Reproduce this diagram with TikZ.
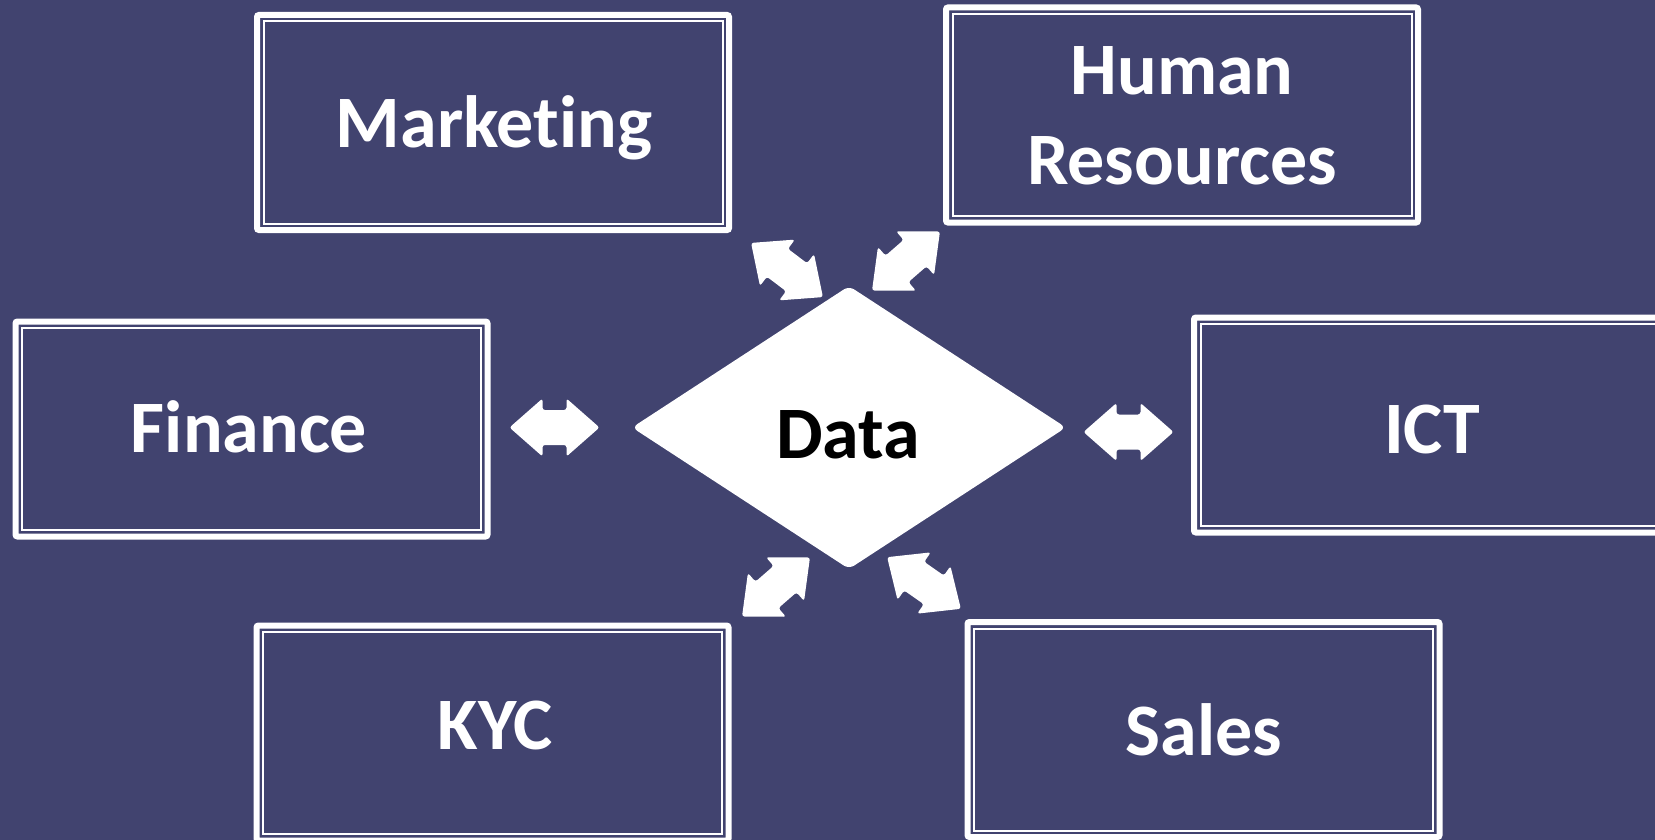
\documentclass[tikz,border=0pt]{standalone}
\usepackage{fontspec}
\setmainfont{Carlito}[RawFeature={-liga}]
\usetikzlibrary{shapes.geometric}
\definecolor{bgblue}{RGB}{65,67,111}
\newcommand{\bigfont}{\fontsize{74pt}{90pt}\selectfont\bfseries}
\tikzset{
  boxst/.style={draw=white, line width=6pt, fill=bgblue, minimum width=472pt, minimum height=215pt, inner sep=0pt, rounded corners=2pt},
  innerline/.style={draw=white, line width=2pt},
  lbl/.style={text=white, font=\bigfont, anchor=base, inner sep=0pt, align=center},
  datast/.style={shape=diamond, fill=white, minimum width=434pt, minimum height=283pt, inner sep=0pt, rounded corners=6pt},
  dblarrow/.pic={\fill[white, rounded corners=2.5pt] (-45,0) -- (-12,-29) -- (-12,-17.5) -- (12,-17.5) -- (12,-29) -- (45,0) -- (12,29) -- (12,17.5) -- (-12,17.5) -- (-12,29) -- cycle;}
}
\begin{document}
\begin{tikzpicture}[x=1pt, y=-1pt]
\useasboundingbox (0,0) rectangle (1655,840);
\fill[bgblue] (0,0) rectangle (1655,840);
\begin{scope}
\clip (0,0) rectangle (1655,840);

% boxes (outer thick line)
\node[boxst] (mkt) at (493,122.5) {};
\node[boxst] (hr)  at (1182,115) {};
\node[boxst] (fin) at (251.5,429) {};
\node[boxst] (ict) at (1430,425) {};
\node[boxst] (kyc) at (492.5,733) {};
\node[boxst] (sal) at (1203.5,729.5) {};

% boxes (inner thin line)
\draw[innerline] (263.5,21.5) rectangle (722.5,223.5);
\draw[innerline] (952.5,14) rectangle (1411.5,216);
\draw[innerline] (22,328) rectangle (481,530);
\draw[innerline] (1200.5,324) rectangle (1659.5,526);
\draw[innerline] (263,632) rectangle (722,834);
\draw[innerline] (974,628.5) rectangle (1433,830.5);

% labels
\node[lbl] (tmkt) at (494,148) {Marketing};
\node[lbl] (thr)  at (1182,185) {Human\\Resources};
\node[lbl] (tfin) at (249,452) {Finance};
\node[lbl] (tict) at (1432,453) {ICT};
\node[lbl] (tkyc) at (495.5,749) {KYC};
\node[lbl] (tsal) at (1204,755) {Sales};

% central diamond
\node[datast] (data) at (849,427.5) {};
\node[lbl, text=black] (tdata) at (848,458) {Data};

% double arrows
\pic (afin) at (554.5,427.5) {dblarrow};
\pic (aict) at (1128.5,432) {dblarrow};
\pic[rotate=-37] (amkt) at (787,270) {dblarrow};
\pic[rotate=41] (ahr) at (906,261) {dblarrow};
\pic[rotate=41] (akyc) at (776,587) {dblarrow};
\pic[rotate=-35] (asal) at (924,583) {dblarrow};
\end{scope}
\end{tikzpicture}
\end{document}
